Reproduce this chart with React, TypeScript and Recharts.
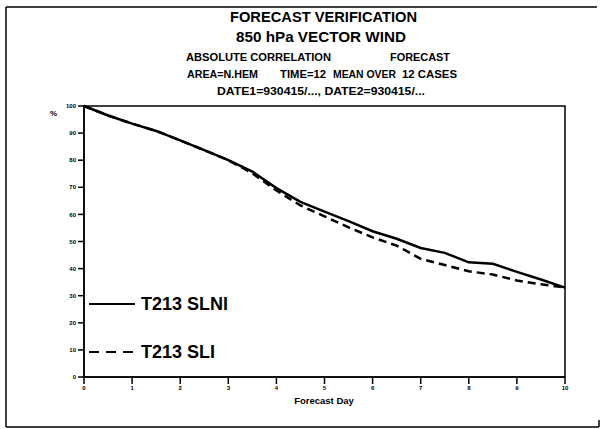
import { LineChart, Line, XAxis, YAxis, ReferenceArea, Legend } from "recharts";

// forecast day (12-hourly steps) and correlation in %
const days = [0, 0.5, 1, 1.5, 2, 2.5, 3, 3.5, 4, 4.5, 5, 5.5, 6, 6.5, 7, 7.5, 8, 8.5, 9, 9.5, 10];
const slni = [100, 96.5, 93.5, 90.8, 87.3, 83.7, 80, 75.8, 69.7, 64.6, 61, 57.5, 53.8, 51, 47.6, 45.8, 42.3, 41.8, 38.8, 36, 33];
const sli = [100, 96.5, 93.5, 90.8, 87.3, 83.7, 80, 75.2, 68.8, 63.3, 59.3, 55.2, 51.5, 48.5, 43.6, 41.3, 39, 37.8, 35.6, 34.2, 33];

const xTicks = [0, 1, 2, 3, 4, 5, 6, 7, 8, 9, 10];
const yTicks = [0, 10, 20, 30, 40, 50, 60, 70, 80, 90, 100];

const data = days.map((d, i) => ({ day: d, slni: slni[i], sli: sli[i] }));

const FONT = "'Liberation Sans', Arial, Helvetica, sans-serif";
const tickStyle = { fontSize: 6, fontWeight: 700, fill: "#000", fontFamily: FONT };

function LegendBox() {
  return (
    <svg width={140} height={70} style={{ display: "block" }}>
      <line x1={1} y1={10} x2={47} y2={10} stroke="#000" strokeWidth={2} />
      <text x={53} y={16} fontSize={18} fontWeight={700} fontFamily={FONT}>T213 SLNI</text>
      <line x1={1} y1={58} x2={47} y2={58} stroke="#000" strokeWidth={2} strokeDasharray="10 7" />
      <text x={53} y={64} fontSize={18} fontWeight={700} fontFamily={FONT}>T213 SLI</text>
    </svg>
  );
}

export default function App() {
  return (
    <div style={{ position: "absolute", left: 0, top: 0, width: 601, height: 429, background: "#fff" }}>
      <LineChart
        width={601}
        height={429}
        data={data}
        margin={{ top: 106, right: 36, bottom: 32, left: 54 }}
      >
        <XAxis
          dataKey="day"
          type="number"
          domain={[0, 10]}
          ticks={xTicks}
          height={20}
          tickSize={7}
          axisLine={{ stroke: "#000", strokeWidth: 1.5 }}
          tickLine={{ stroke: "#000", strokeWidth: 1.5 }}
          tick={tickStyle}
        />
        <YAxis
          type="number"
          domain={[0, 100]}
          ticks={yTicks}
          width={30}
          tickSize={6}
          axisLine={{ stroke: "#000", strokeWidth: 1.5 }}
          tickLine={{ stroke: "#000", strokeWidth: 1.5 }}
          tick={tickStyle}
        />
        <ReferenceArea x1={0} x2={10} y1={0} y2={100} fill="none" stroke="#000" strokeWidth={1.5} />
        <Legend
          layout="vertical"
          verticalAlign="middle"
          align="center"
          wrapperStyle={{ left: 88, top: 294, width: 140, height: 70 }}
          content={() => <LegendBox />}
        />
        <Line
          dataKey="slni"
          type="linear"
          stroke="#000"
          strokeWidth={2.5}
          dot={false}
          isAnimationActive={false}
        />
        <Line
          dataKey="sli"
          type="linear"
          stroke="#000"
          strokeWidth={2.5}
          strokeDasharray="8 5"
          dot={false}
          isAnimationActive={false}
        />
      </LineChart>
      {/* titles, axis caption and page frame */}
      <svg
        width={601}
        height={429}
        style={{ position: "absolute", left: 0, top: 0, pointerEvents: "none" }}
        fontFamily={FONT}
        fontWeight={700}
      >
        <line x1={6} y1={7} x2={597} y2={7} stroke="#000" strokeWidth={1.5} />
        <line x1={6} y1={7} x2={6} y2={427} stroke="#000" strokeWidth={1.5} />
        <line x1={6} y1={427} x2={599} y2={427} stroke="#000" strokeWidth={1.5} />
        <line x1={599} y1={420} x2={599} y2={427} stroke="#000" strokeWidth={1.5} />
        <text x={230} y={22} fontSize={14} textLength={187} lengthAdjust="spacingAndGlyphs">FORECAST VERIFICATION</text>
        <text x={236} y={42} fontSize={14} textLength={170} lengthAdjust="spacingAndGlyphs">850 hPa VECTOR WIND</text>
        <text x={186} y={61} fontSize={10} textLength={145} lengthAdjust="spacingAndGlyphs">ABSOLUTE CORRELATION</text>
        <text x={390} y={61} fontSize={10} textLength={60} lengthAdjust="spacingAndGlyphs">FORECAST</text>
        <text x={187} y={78} fontSize={10} textLength={71} lengthAdjust="spacingAndGlyphs">AREA=N.HEM</text>
        <text x={280} y={78} fontSize={10} textLength={46} lengthAdjust="spacingAndGlyphs">TIME=12</text>
        <text x={333} y={78} fontSize={10} textLength={63} lengthAdjust="spacingAndGlyphs">MEAN OVER</text>
        <text x={402} y={78} fontSize={10} textLength={55} lengthAdjust="spacingAndGlyphs">12 CASES</text>
        <text x={217} y={95} fontSize={10} textLength={208} lengthAdjust="spacingAndGlyphs">DATE1=930415/..., DATE2=930415/...</text>
        <text x={50} y={116} fontSize={8}>%</text>
        <text x={324} y={404} fontSize={9.5} textAnchor="middle">Forecast Day</text>
      </svg>
    </div>
  );
}
